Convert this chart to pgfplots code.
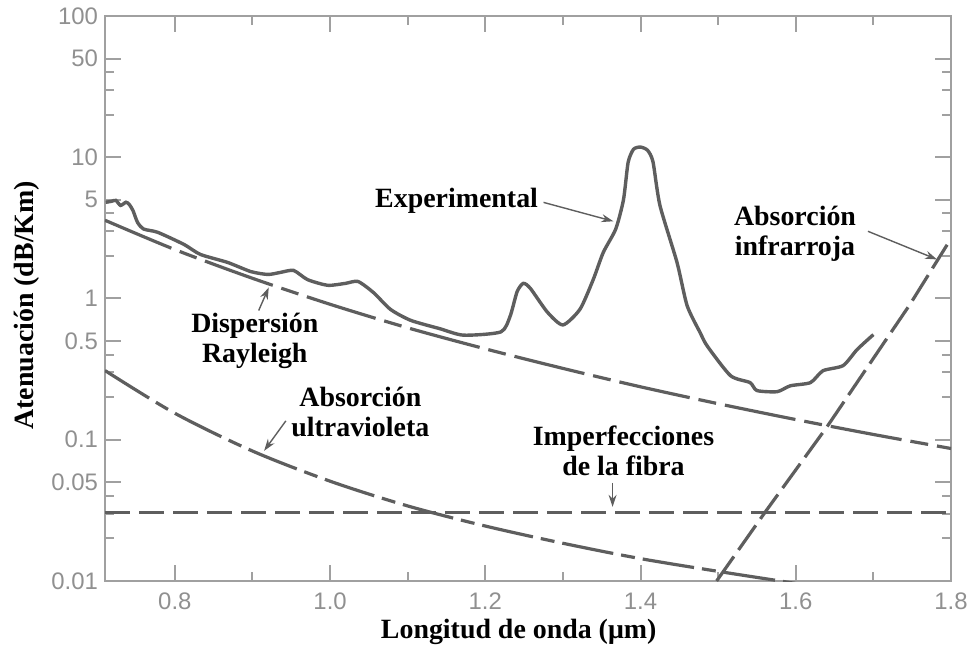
\documentclass[border=0pt]{standalone}
\usepackage{fontspec}
\setmainfont{Liberation Serif}
\setsansfont{Liberation Sans}
\usepackage{pgfplots}
\pgfplotsset{compat=1.18}
\usetikzlibrary{arrows.meta}

\definecolor{curve}{HTML}{5E5E5E}
\definecolor{axisgray}{HTML}{A0A0A0}
\definecolor{ticktext}{HTML}{909090}

\begin{document}
\begin{tikzpicture}
\begin{axis}[
  at={(0,0)}, anchor=south west,
  scale only axis,
  width=423bp, height=282.5bp,
  ymode=log,
  xmin=0.71, xmax=1.8,
  ymin=0.01, ymax=100,
  xtick={0.8,1.0,1.2,1.4,1.6,1.8},
  xticklabels={0.8,1.0,1.2,1.4,1.6,1.8},
  minor xtick={0.9,1.1,1.3,1.5,1.7},
  ytick={0.01,0.05,0.1,0.5,1,5,10,50,100},
  yticklabels={0.01,0.05,0.1,0.5,1,5,10,50,100},
  minor ytick={0.02,0.03,0.04,0.2,0.3,0.4,2,3,4,20,30,40},
  /pgf/number format/assume math mode=true,
  tick label style={font=\sffamily\fontsize{12}{12}\selectfont, text=ticktext},
  xticklabel style={yshift=-2.5bp},
  axis line style={axisgray, line width=1bp},
  tick style={axisgray, line width=1bp},
  major tick length=8bp,
  minor tick length=4.5bp,
  xlabel={Longitud de onda (μm)},
  ylabel={Atenuación (dB/Km)},
  label style={font=\bfseries\fontsize{14}{15}\selectfont},
  xlabel style={at={(axis description cs:0.489,-0.090)}, anchor=center},
  ylabel style={at={(axis description cs:-0.092,0.488)}, anchor=center},
  clip mode=individual,
]

% experimental
\addplot[curve, line width=1.7bp, smooth, tension=0.4] coordinates {
  (0.711,4.8) (0.718,4.87) (0.724,4.95) (0.730,4.56) (0.737,4.8) (0.741,4.65)
  (0.746,4.2) (0.752,3.45) (0.760,3.1) (0.778,2.94) (0.812,2.41) (0.833,2.05)
  (0.868,1.8) (0.898,1.55) (0.920,1.48) (0.936,1.53) (0.953,1.58) (0.971,1.36)
  (0.997,1.24) (1.020,1.28) (1.036,1.32) (1.056,1.10) (1.078,0.836) (1.104,0.70)
  (1.142,0.61) (1.172,0.55) (1.220,0.58) (1.232,0.75) (1.241,1.12) (1.249,1.28)
  (1.258,1.18) (1.280,0.80) (1.300,0.65) (1.322,0.84) (1.339,1.36) (1.352,2.12)
  (1.368,3.1) (1.378,5.0) (1.384,9.2) (1.391,11.4) (1.400,11.8) (1.409,11.2)
  (1.416,9.3) (1.425,4.56) (1.447,1.8) (1.460,0.89) (1.477,0.57) (1.486,0.46)
  (1.516,0.284) (1.541,0.254) (1.550,0.223) (1.576,0.219) (1.593,0.241)
  (1.619,0.254) (1.635,0.308) (1.661,0.335) (1.679,0.435) (1.700,0.555)
};

% Rayleigh scattering
\addplot[curve, line width=1.6bp, smooth, dash pattern=on 36bp off 4.5bp on 9bp off 4.5bp] coordinates {
  (0.71,3.58) (0.8,2.22) (0.9,1.39) (1.0,0.91) (1.1,0.62) (1.2,0.44)
  (1.3,0.32) (1.4,0.237) (1.5,0.18) (1.6,0.139) (1.7,0.109) (1.8,0.0867)
};

% ultraviolet absorption
\addplot[curve, line width=1.6bp, smooth, dash pattern=on 26bp off 4bp on 7bp off 4bp] coordinates {
  (0.71,0.309) (0.8,0.154) (0.9,0.0832) (1.0,0.0509) (1.1,0.034) (1.2,0.0245)
  (1.3,0.0185) (1.4,0.0144) (1.5,0.0117) (1.58,0.0100) (1.6,0.0096)
};

% infrared absorption
\addplot[curve, line width=1.6bp, dash pattern=on 15bp off 4bp] coordinates {
  (1.498,0.01) (1.561,0.031) (1.64,0.123) (1.747,0.906) (1.795,2.4)
};

% fibre imperfections
\addplot[curve, line width=1.6bp, dash pattern=on 12.5bp off 4.5bp] coordinates {
  (0.71,0.0304) (1.8,0.0304)
};

\tikzset{lab/.style={font=\bfseries\fontsize{14}{15}\selectfont, align=center, text=black, inner sep=0pt},
         arr/.style={curve, line width=0.7bp, -{Stealth[length=6bp,width=4bp]}}}

\node[lab] at (axis cs:1.163,4.95) {Experimental};
\draw[arr] (axis cs:1.275,4.79) -- (axis cs:1.365,3.52);

\node[lab] at (axis cs:0.903,0.504) {Dispersión\\Rayleigh};
\draw[arr] (axis cs:0.908,0.822) -- (axis cs:0.921,1.197);

\node[lab] at (axis cs:1.039,0.158) {Absorción\\ultravioleta};
\draw[arr] (axis cs:0.943,0.136) -- (axis cs:0.915,0.0835);

\node[lab] at (axis cs:1.378,0.0835) {Imperfecciones\\de la fibra};
\draw[arr] (axis cs:1.364,0.0496) -- (axis cs:1.364,0.0335);

\node[lab] at (axis cs:1.599,2.89) {Absorción\\infrarroja};
\draw[arr] (axis cs:1.693,2.99) -- (axis cs:1.782,1.89);

\end{axis}
\pgfresetboundingbox
\path[use as bounding box] (-52.5bp,-34.5bp) rectangle (434bp,290.5bp);
\end{tikzpicture}
\end{document}
